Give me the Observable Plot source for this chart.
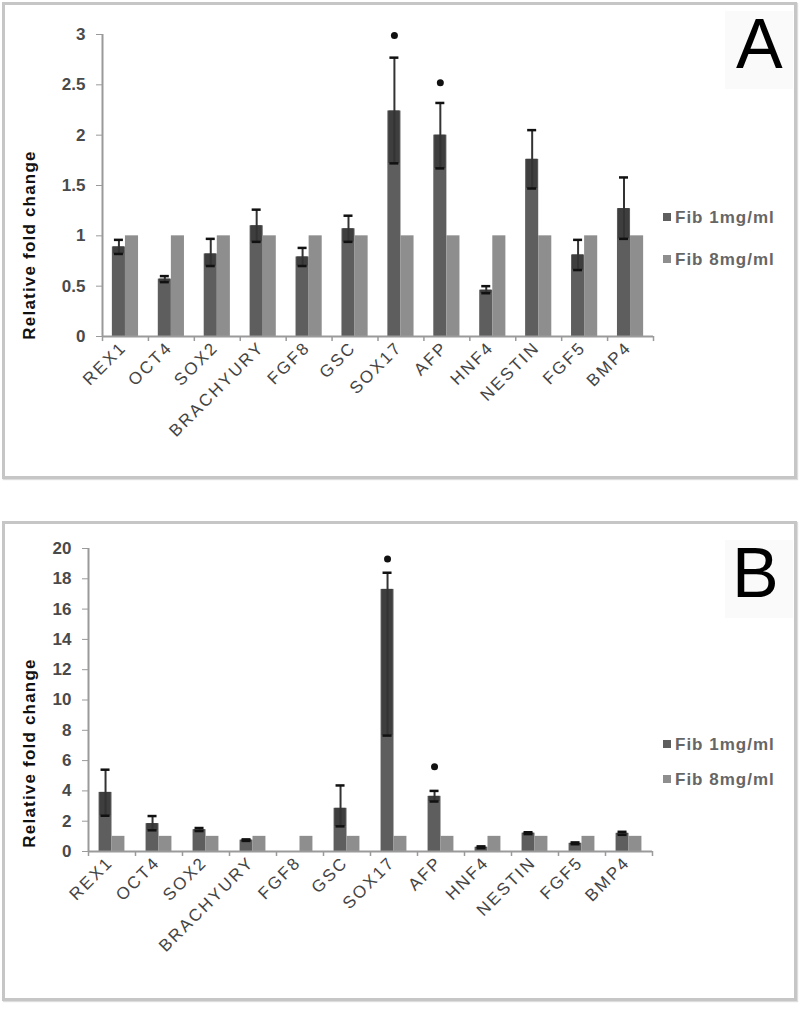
<!DOCTYPE html>
<html>
<head>
<meta charset="utf-8">
<script src="https://cdn.jsdelivr.net/npm/d3@7"></script>
<script src="https://cdn.jsdelivr.net/npm/@observablehq/plot@0.6"></script>
<style>
  html, body { margin: 0; padding: 0; background: #fff; }
  #page { position: relative; width: 800px; height: 1009px; overflow: hidden; font-family: "Liberation Sans", Arial, sans-serif; }
  .border { position: absolute; box-sizing: border-box; border: 3px solid #c6c6c6; box-shadow: 1px 1px 1px #ddd; }
  .plot { position: absolute; left: 0; }
  .letter { position: absolute; font-size: 70px; line-height: 70px; color: #000; font-family: "Liberation Sans", Arial, sans-serif; }
  .letterbg { position: absolute; background: #fafafa; }
  .leg { position: absolute; font-size: 17px; line-height: 20px; font-weight: bold; color: #666; letter-spacing: 1px; white-space: nowrap; }
  .leg span.sw { display: inline-block; width: 8px; height: 8px; margin-right: 4px; vertical-align: 2px; }
  .ytitle { position: absolute; font-size: 17px; font-weight: bold; color: #111; letter-spacing: 1.2px; white-space: nowrap; transform: translate(-50%, -50%) rotate(-90deg); line-height: 20px; }
  g.xlab text { letter-spacing: 2.2px; }
</style>
</head>
<body>
<div id="page"></div>
<script>
// ---- data ----
const genes = ["REX1","OCT4","SOX2","BRACHYURY","FGF8","GSC","SOX17","AFP","HNF4","NESTIN","FGF5","BMP4"];
const seriesNames = ["Fib 1mg/ml", "Fib 8mg/ml"];

// Panel A
const aFib1   = [0.89, 0.57, 0.82, 1.10, 0.79, 1.07, 2.24, 2.00, 0.46, 1.76, 0.81, 1.27];
const aFib1Lo = [0.82, 0.54, 0.70, 0.94, 0.70, 0.94, 1.72, 1.67, 0.43, 1.47, 0.66, 0.97];
const aFib1Hi = [0.96, 0.60, 0.97, 1.26, 0.88, 1.20, 2.77, 2.32, 0.50, 2.05, 0.96, 1.58];
const aFib8   = [1, 1, 1, 1, 1, 1, 1, 1, 1, 1, 1, 1];
const aStar   = [null, null, null, null, null, null, 2.99, 2.52, null, null, null, null];
const aTicks  = [0, 0.5, 1, 1.5, 2, 2.5, 3];

// Panel B
const bFib1   = [3.90, 1.84, 1.44, 0.75, 0, 2.85, 17.3, 3.64, 0.28, 1.21, 0.54, 1.20];
const bFib1Lo = [2.36, 1.40, 1.35, 0.70, null, 1.66, 7.65, 3.30, 0.22, 1.15, 0.48, 1.10];
const bFib1Hi = [5.40, 2.34, 1.55, 0.80, null, 4.36, 18.4, 4.00, 0.34, 1.27, 0.60, 1.30];
const bFib8   = [1, 1, 1, 1, 1, 1, 1, 1, 1, 1, 1, 1];
const bStar   = [null, null, null, null, null, null, 19.3, 5.6, null, null, null, null];
const bTicks  = [0, 2, 4, 6, 8, 10, 12, 14, 16, 18, 20];

const yTitle = "Relative fold change";
const c1 = "#5e5e5e", c8 = "#8e8e8e";

function panel(cfg) {
  const {fib1, lo, hi, fib8, star, ticks, top, height, ml, mr, mt, mb, pad, tickLen} = cfg;
  const data = genes.map((g, i) => ({gene: g, v1: fib1[i], v8: fib8[i], lo: lo[i], hi: hi[i], star: star[i]}));
  const withErr = data.filter(d => d.lo != null);
  const withStar = data.filter(d => d.star != null);
  const innerW = 800 - ml - mr;
  const step = innerW / genes.length;
  const bw = step * (1 - pad);
  const half = bw / 2;
  const off = bw / 4;
  const yMax = ticks[ticks.length - 1];
  const capInset = (bw - 9) / 2;
  const chart = Plot.plot({
    width: 800, height,
    marginLeft: ml, marginRight: mr, marginTop: mt, marginBottom: mb,
    style: {fontFamily: "'Liberation Sans', Arial, sans-serif", background: "transparent", overflow: "visible"},
    x: {domain: genes, paddingInner: pad, paddingOuter: pad / 2, round: false, label: null, axis: null},
    y: {domain: [0, yMax], label: null, axis: null},
    marks: [
      Plot.barY(data, {x: "gene", y: "v1", fill: c1, insetRight: half, insetLeft: 0}),
      Plot.barY(data, {x: "gene", y: "v8", fill: c8, insetLeft: half}),
      Plot.barY(withErr, {x: "gene", y1: "lo", y2: "v1", fill: "#3e3e3e", insetRight: half + 1, insetLeft: 1}),
      Plot.ruleX(withErr, {x: "gene", y1: "lo", y2: "hi", dx: -off, stroke: "#333", strokeWidth: 2}),
      Plot.tickY(withErr, {x: "gene", y: "hi", dx: -off, insetLeft: capInset, insetRight: capInset, stroke: "#111", strokeWidth: 2.5}),
      Plot.tickY(withErr, {x: "gene", y: "lo", dx: -off, insetLeft: capInset, insetRight: capInset, stroke: "#111", strokeWidth: 2.5}),
      Plot.dot(withStar, {x: "gene", y: "star", dx: -off, r: 3.5, fill: "#111", stroke: "none"}),
      Plot.ruleY([0], {stroke: "#9a9a9a", strokeWidth: 2}),
      Plot.ruleX([genes[0]], {x: d => d, y1: 0, y2: yMax, dx: -step / 2, stroke: "#9a9a9a", strokeWidth: 2}),
      Plot.ruleX(genes, {x: d => d, y1: 0, y2: -tickLen, dx: -step / 2, stroke: "#9a9a9a", strokeWidth: 1.5}),
      Plot.ruleX([genes[genes.length - 1]], {x: d => d, y1: 0, y2: -tickLen, dx: step / 2, stroke: "#9a9a9a", strokeWidth: 1.5}),
      Plot.axisY({ticks, tickFormat: d => String(d), tickSize: 6, tickPadding: 11, fontSize: 17, fontWeight: "bold", fill: "#4a4a4a", stroke: "#9a9a9a"}),
      Plot.text(genes, {x: d => d, text: d => d, frameAnchor: "bottom", rotate: -45, textAnchor: "end", dy: 12, dx: 2, fontSize: 17, fill: "#444", className: "xlab"})
    ]
  });
  const wrap = document.createElement("div");
  wrap.className = "plot";
  wrap.style.top = top + "px";
  wrap.appendChild(chart);
  return wrap;
}

const page = document.getElementById("page");

function addBorder(top, h) {
  const b = document.createElement("div");
  b.className = "border";
  b.style.left = "2px"; b.style.top = top + "px"; b.style.width = "795px"; b.style.height = h + "px";
  page.appendChild(b);
}
function addLetter(txt, left, top) {
  const bg = document.createElement("div");
  bg.className = "letterbg";
  bg.style.left = "725px"; bg.style.top = (top + 2) + "px"; bg.style.width = "68px"; bg.style.height = "78px";
  page.appendChild(bg);
  const l = document.createElement("div");
  l.className = "letter"; l.textContent = txt;
  l.style.left = left + "px"; l.style.top = top + "px";
  page.appendChild(l);
}
function addLegend(y1, y2) {
  [[seriesNames[0], c1, y1], [seriesNames[1], c8, y2]].forEach(([name, col, y]) => {
    const d = document.createElement("div");
    d.className = "leg";
    d.style.left = "663px"; d.style.top = (y - 10) + "px";
    d.innerHTML = `<span class="sw" style="background:${col}"></span>${name}`;
    page.appendChild(d);
  });
}
function addTitle(cx, cy) {
  const t = document.createElement("div");
  t.className = "ytitle"; t.textContent = yTitle;
  t.style.left = cx + "px"; t.style.top = cy + "px";
  page.appendChild(t);
}

addBorder(2, 477);
addBorder(521, 480);

page.appendChild(panel({fib1: aFib1, lo: aFib1Lo, hi: aFib1Hi, fib8: aFib8, star: aStar, ticks: aTicks,
  top: 0, height: 480, ml: 102, mr: 147, mt: 34, mb: 144, pad: 0.43, tickLen: 0.05}));
page.appendChild(panel({fib1: bFib1, lo: bFib1Lo, hi: bFib1Hi, fib8: bFib8, star: bStar, ticks: bTicks,
  top: 500, height: 509, ml: 88, mr: 148, mt: 48, mb: 158, pad: 0.45, tickLen: 0.33}));

addTitle(30, 245);
addTitle(30, 753);
addLetter("A", 736, 9);
addLetter("B", 732, 538);
addLegend(218, 260);
addLegend(745, 780);
</script>
</body>
</html>
